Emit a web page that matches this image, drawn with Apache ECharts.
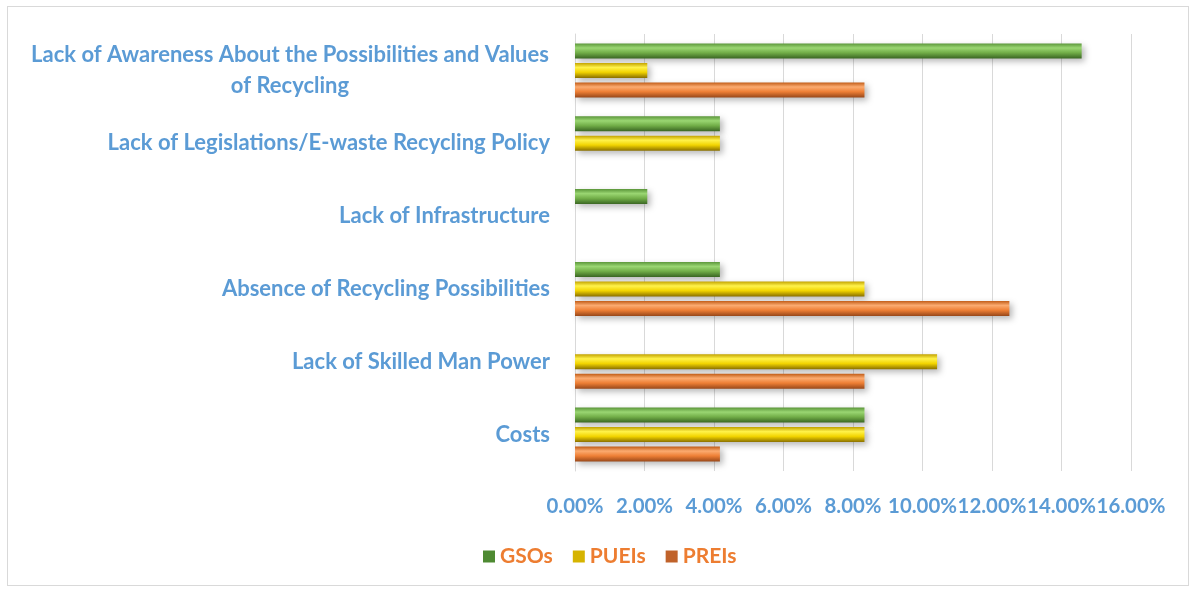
<!DOCTYPE html>
<html>
<head>
<meta charset="utf-8">
<script src="https://cdn.jsdelivr.net/npm/echarts@6/dist/echarts.min.js"></script>
<style>
  html, body { margin: 0; padding: 0; background: #fff; }
  #wrap { position: absolute; left: 7px; top: 6px; width: 1182px; height: 580px; border: 1px solid #d9d9d9; box-sizing: border-box; }
  #chart { position: absolute; left: -8px; top: -7px; width: 1196px; height: 593px; }
</style>
</head>
<body>
<div id="wrap"><div id="chart"></div></div>
<script>
// Barriers to e-waste recycling, share of respondents per stakeholder group
const categories = [
  'Lack of Awareness About the Possibilities and Values of Recycling',
  'Lack of Legislations/E-waste Recycling Policy',
  'Lack of Infrastructure',
  'Absence of Recycling Possibilities',
  'Lack of Skilled Man Power',
  'Costs'
];
const seriesNames = ['GSOs', 'PUEIs', 'PREIs'];
const gsos  = [14.58, 4.17, 2.08, 4.17, null, 8.33];
const pueis = [2.08, 4.17, null, 8.33, 10.42, 8.33];
const preis = [8.33, null, null, 12.5, 8.33, 4.17];
const xTicks = [0, 2, 4, 6, 8, 10, 12, 14, 16];

function bevel(dark, light, mid, deep) {
  return new echarts.graphic.LinearGradient(0, 0, 0, 1, [
    { offset: 0, color: dark },
    { offset: 0.3, color: light },
    { offset: 0.62, color: mid },
    { offset: 1, color: deep }
  ]);
}
const fills = [
  bevel('#5b963a', '#9ad672', '#72ae48', '#3a6623'),
  bevel('#c2a200', '#fff24a', '#f2d400', '#8a7000'),
  bevel('#c15c17', '#fbab70', '#ee7f35', '#98481a')
];
const legendColors = ['#4e8a32', '#d6b400', '#c0622a'];

const chart = echarts.init(document.getElementById('chart'));
const seriesData = [gsos, pueis, preis];
const labelFont = { color: '#5b9bd5', fontFamily: 'Lato', fontWeight: 'bold', fontSize: 22 };

chart.setOption({
  animation: false,
  grid: { left: 575, right: 65, top: 34, bottom: 122, containLabel: false },
  xAxis: {
    type: 'value',
    min: xTicks[0],
    max: xTicks[xTicks.length - 1],
    interval: 2,
    axisLine: { show: false },
    axisTick: { show: false },
    splitLine: { show: true, lineStyle: { color: '#d9d9d9', width: 1 } },
    axisLabel: Object.assign({}, labelFont, {
      fontSize: 20.4,
      margin: 25,
      showMinLabel: true,
      showMaxLabel: true,
      formatter: v => v.toFixed(2) + '%'
    })
  },
  yAxis: {
    type: 'category',
    inverse: true,
    data: categories,
    axisLine: { show: true, lineStyle: { color: '#d9d9d9' } },
    axisTick: { show: false },
    axisLabel: Object.assign({
      margin: 25,
      lineHeight: 31,
      formatter: function (v, i) {
        if (i === 0) {
          return '{c|Lack of Awareness About the Possibilities and Values}\n{c|of Recycling}';
        }
        return v;
      },
      rich: {
        c: Object.assign({ width: 520, align: 'center', lineHeight: 31 }, labelFont)
      }
    }, labelFont)
  },
  legend: {
    bottom: 21,
    left: 478,
    itemWidth: 12,
    itemHeight: 12,
    itemGap: 20,
    icon: 'rect',
    textStyle: { color: '#ed7d31', fontFamily: 'Lato', fontWeight: 'bold', fontSize: 21 },
    data: seriesNames.map((n, i) => ({ name: n, itemStyle: { color: legendColors[i] } }))
  },
  series: seriesNames.map((name, i) => ({
    name: name,
    type: 'bar',
    data: seriesData[i],
    barWidth: 15,
    barGap: '30%',
    itemStyle: {
      color: fills[i],
      shadowColor: 'rgba(0,0,0,0.28)',
      shadowBlur: 6,
      shadowOffsetX: 3,
      shadowOffsetY: 3
    }
  }))
});
</script>
</body>
</html>
